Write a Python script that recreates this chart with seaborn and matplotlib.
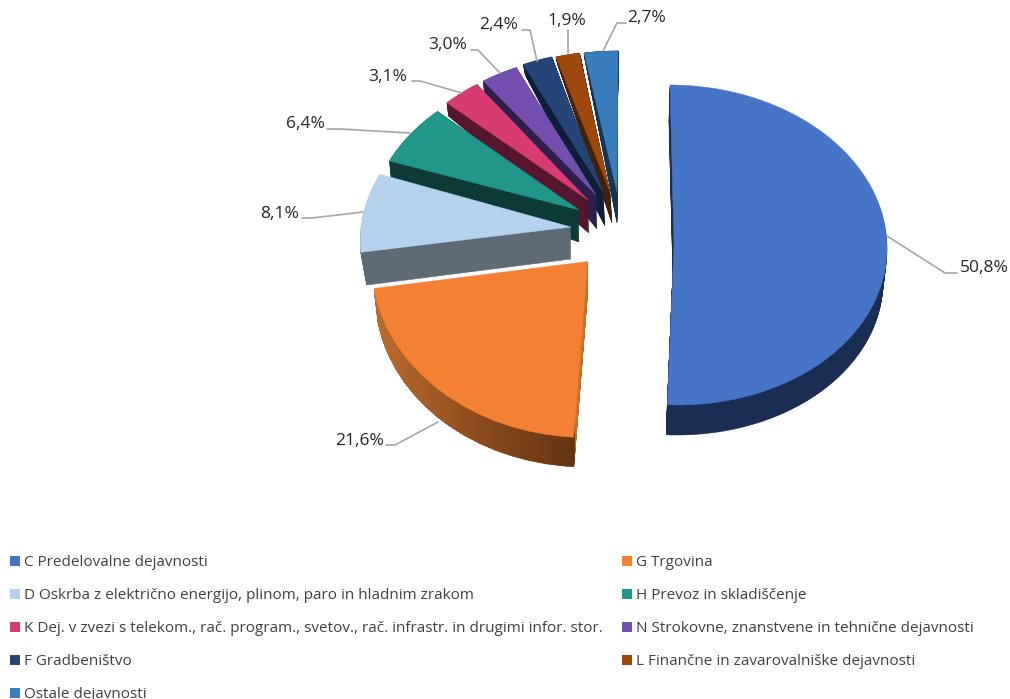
import numpy as np
import seaborn as sns
import matplotlib
matplotlib.use('Agg')
import matplotlib.pyplot as plt
from matplotlib.colors import LinearSegmentedColormap
from matplotlib.patches import Patch
from matplotlib.path import Path
from matplotlib.transforms import Affine2D

# chart data
categories = ['C Predelovalne dejavnosti', 'G Trgovina',
              'D Oskrba z električno energijo, plinom, paro in hladnim zrakom',
              'H Prevoz in skladiščenje',
              'K Dej. v zvezi s telekom., rač. program., svetov., rač. infrastr. in drugimi infor. stor.',
              'N Strokovne, znanstvene in tehnične dejavnosti', 'F Gradbeništvo',
              'L Finančne in zavarovalniške dejavnosti', 'Ostale dejavnosti']
values = [50.8, 21.6, 8.1, 6.4, 3.1, 3.0, 2.4, 1.9, 2.7]

top_colors = ['#4674c6', '#f38033', '#b5d1ed', '#20978a', '#d73b71', '#7350ad', '#264478', '#9e480e', '#3a7dbd']
side_colors = ['#1a2d52', '#8a4a1c', '#5e6b76', '#0d3a36', '#57152f', '#2e1f4d', '#0f1e38', '#41210a', '#163451']

# every slice is exploded by hand: cx, cy, rx, ry, shear x, shear y (pixels)
top_layout = [(674, 245, 213, 160, -4, 0), (587.5, 261.5, 216, 176, 3, 1.7), (571, 227, 210, 156, 19, 0),
              (579, 210, 207, 145, 15, 0), (588, 200, 200, 143, 8, 0), (596, 195, 200, 141, 6, 0),
              (603, 192, 200, 141, 6, 0), (610, 192, 200, 141, 3, 0), (617, 192, 200, 141, 1, 0)]
bottom_layout = [(673, 278, 210, 157, -4, 0), (587.5, 295, 212, 172, 3, 1.7), (571, 259, 204, 160, 19, 0),
                 (579, 242, 205, 183, 15, 0), (589, 233, 199, 172, 8, 0), (597, 229, 200, 168, 6, 0),
                 (605, 226, 200, 167, 6, 0), (612, 223, 200, 165, 3, 0), (617, 223, 200, 170, 1, 0)]

# leader lines and label anchors
leaders = [[(887, 236), (945, 273), (957, 273)], [(438, 422), (395, 445), (386, 445)],
           [(363, 212), (312, 218), (302, 218)], [(410, 133), (340, 129), (327, 129)],
           [(462, 93), (420, 81), (412, 81)], [(500, 73), (478, 50), (471, 50)],
           [(537, 61), (530, 30), (522, 30)], [(568, 53), (568, 30)],
           [(603, 51), (617, 23), (626, 23)]]
label_pos = [(960, 268, 'left'), (384, 441, 'right'), (299, 214, 'right'), (325, 124, 'right'),
             (407, 77, 'right'), (467, 45, 'right'), (518, 25, 'right'), (567, 21, 'center'), (627, 18, 'left')]

sns.set_theme(style='white')
plt.rcParams['font.family'] = ['Open Sans', 'DejaVu Sans']
palette = sns.color_palette(top_colors)

fig = plt.figure(figsize=(10.1, 6.99), dpi=100)
ax = fig.add_axes([0, 0, 1, 1])


def draw_slice(i, layout, color, edge, lw, z):
    # the pie gives the wedge for this value, the affine puts it in place
    wedges, _ = ax.pie(values, startangle=90, counterclock=False, colors=[color] * len(values), frame=True,
                       wedgeprops={'edgecolor': edge, 'linewidth': lw})
    for j, w in enumerate(wedges):
        if j != i:
            w.remove()
    cx, cy, rx, ry, sx, sy = layout
    place = Affine2D(np.array([[rx, sx, cx], [sy, -ry, cy], [0, 0, 1]]))
    wedges[i].set_transform(place + ax.transData)
    wedges[i].set_zorder(z)
    return wedges[i].get_path().transformed(place)


# back to front, the two big slices come last
order = [8, 7, 6, 5, 4, 3, 2, 1, 0]
n_layers = 36
orange_paths = []
for z, i in enumerate(order):
    for t in np.linspace(1, 0.04, n_layers):
        layer = [b * t + a * (1 - t) for a, b in zip(top_layout[i], bottom_layout[i])]
        p = draw_slice(i, layer, side_colors[i], side_colors[i], 0.4, 2 * z + 1)
        if i == 1:
            orange_paths.append(p)
    if i == 1:
        # thin white gap above the orange slice
        halo = list(top_layout[i])
        halo[1] -= 1.6
        draw_slice(i, halo, 'white', 'white', 0.3, 2 * z + 0.5)
    draw_slice(i, top_layout[i], palette[i], top_colors[i], 0.3, 2 * z + 2)

# orange rim has a gradient, right strip is the lit cut face
rim_cmap = LinearSegmentedColormap.from_list('rim', ['#bd6c2e', '#8a4a1c', '#5c3010'])
rim = rim_cmap(np.linspace(0, 1, 220))[None, :, :]
rim[0, 201:] = matplotlib.colors.to_rgba('#c9712c')
im = ax.imshow(rim, extent=(374, 594, 480, 250), aspect='auto', zorder=2 * order.index(1) + 1.5)
im.set_clip_path(Path.make_compound_path(*orange_paths), transform=ax.transData)

for pts, (x, y, ha), v in zip(leaders, label_pos, values):
    xs, ys = zip(*pts)
    ax.plot(xs, ys, color='#a6a6a6', lw=1.2, zorder=30)
    ax.text(x, y, f'{v:.1f}%'.replace('.', ','), ha=ha, va='center', fontsize=12.5, color='#262626', zorder=31)

# legend is filled column first, so the rows read C G / D H / K N / F L / Ostale
legend_order = [0, 2, 4, 6, 8, 1, 3, 5, 7]
handles = [Patch(facecolor=top_colors[i], edgecolor='none', label=categories[i]) for i in legend_order]
ax.legend(handles=handles, ncol=2, loc='upper left', bbox_to_anchor=(10, 555.5), bbox_transform=ax.transData,
          frameon=False, fontsize=11, labelcolor='#404040', handlelength=0.65, handleheight=0.65,
          handletextpad=0.25, borderpad=0, borderaxespad=0, labelspacing=1.17, columnspacing=1.3)

ax.set_aspect('auto')
ax.set_xlim(0, 1010)
ax.set_ylim(699, 0)
ax.axis('off')
fig.savefig('out.png', dpi=100)
